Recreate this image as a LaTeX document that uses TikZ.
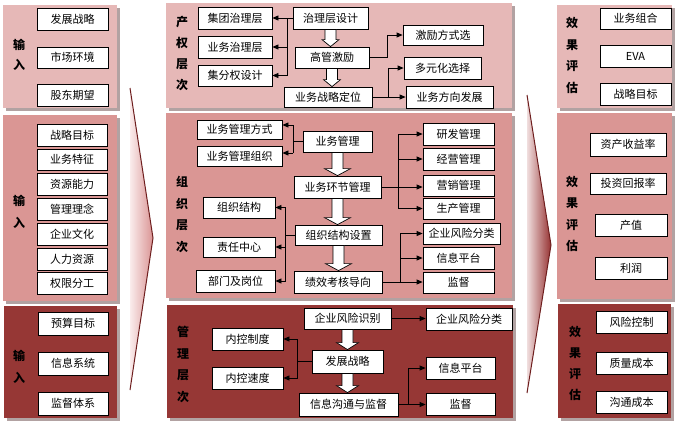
\documentclass[tikz,border=0pt]{standalone}
\usepackage{fontspec}
\setmainfont{Noto Sans CJK SC}
\usetikzlibrary{arrows.meta,calc}
\definecolor{pA}{RGB}{230,184,183}
\definecolor{pB}{RGB}{218,150,148}
\definecolor{pC}{RGB}{150,55,53}
\definecolor{shd}{RGB}{178,162,162}
\definecolor{edgec}{RGB}{110,30,30}
\newcommand\bx[6]{\pgfmathsetmacro\bxw{#4-#2}\pgfmathsetmacro\bxh{#5-#3}%
  \node[box,minimum width=\bxw pt,minimum height=\bxh pt] (#1) at ({(#2+#4)/2},{(#3+#5)/2}) {#6};}
\newcommand\panel[5]{\fill[shd] (#1+3,#2+3) rectangle (#3+3,#4+3); \fill[#5] (#1,#2) rectangle (#3,#4);}
\newcommand\barrow[3]{\draw[barr] let \p1=(#1.south), \p2=(#2.north) in
  (\x1-5.5pt,\y1) -- (\x1+5.5pt,\y1) -- (\x1+5.5pt,\y2+7pt) -- (\x1+#3pt,\y2+7pt) -- (\x1,\y2)
  -- (\x1-#3pt,\y2+7pt) -- (\x1-5.5pt,\y2+7pt) -- cycle;}
\begin{document}
\begin{tikzpicture}[x=1pt,y=-1pt,
  box/.style={draw=black,fill=white,line width=0.8pt,inner sep=0pt,font=\fontsize{11}{12}\selectfont},
  lbl/.style={align=center,inner sep=0pt},
  conn/.style={draw=black,line width=0.8pt,-{Triangle[length=6pt,width=5pt]}},
  ln/.style={draw=black,line width=0.8pt},
  barr/.style={fill=white,draw=black,line width=0.7pt}]
\useasboundingbox (0,0) rectangle (679,429);
\fill[white] (0,0) rectangle (679,429);
% panels
\panel{3}{5}{117}{108}{pA}
\panel{3}{115}{117}{301}{pB}
\panel{4}{306}{117}{418}{pC}
\panel{166}{3}{512}{108}{pA}
\panel{166}{113}{512}{298}{pB}
\panel{167}{305}{513}{418}{pC}
\panel{557}{5}{672}{108}{pA}
\panel{557}{113}{672}{299}{pB}
\panel{558}{304}{671}{418}{pC}
% chevrons
\shade[left color={rgb,255:red,250;green,236;blue,236},right color={rgb,255:red,218;green,148;blue,148}] (130,88) -- (153,238) -- (130,390) -- cycle;
\draw[edgec,line width=1pt] (130,88) -- (153,238) -- (130,390);
\shade[left color={rgb,255:red,240;green,222;blue,222},right color={rgb,255:red,150;green,50;blue,50}] (527,95) -- (551,245) -- (527,393) -- cycle;
\draw[edgec,line width=1pt] (527,95) -- (551,245) -- (527,393);
% labels
\node[lbl,font=\fontsize{12}{20}\selectfont\bfseries] (li1) at (19,55) {输\\入};
\node[lbl,font=\fontsize{12}{22}\selectfont\bfseries] (li2) at (19,212) {输\\入};
\node[lbl,font=\fontsize{12}{22}\selectfont\bfseries] (li3) at (19,367) {输\\入};
\node[lbl,font=\fontsize{12}{21}\selectfont\bfseries] (lm1) at (182,53.5) {产\\权\\层\\次};
\node[lbl,font=\fontsize{12}{21.7}\selectfont\bfseries] (lm2) at (182,214.5) {组\\织\\层\\次};
\node[lbl,font=\fontsize{12}{21.7}\selectfont\bfseries] (lm3) at (183,364.5) {管\\理\\层\\次};
\node[lbl,font=\fontsize{12}{21.7}\selectfont\bfseries] (lr1) at (572,55.5) {效\\果\\评\\估};
\node[lbl,font=\fontsize{12}{21.3}\selectfont\bfseries] (lr2) at (572,214) {效\\果\\评\\估};
\node[lbl,font=\fontsize{12}{21}\selectfont\bfseries] (lr3) at (575,363.5) {效\\果\\评\\估};
% left boxes
\bx{a1}{37}{8}{108}{30}{发展战略}
\bx{a2}{37}{47}{108}{68}{市场环境}
\bx{a3}{37}{84}{108}{106}{股东期望}
\bx{b1}{37}{124}{107}{146}{战略目标}
\bx{b2}{37}{149}{107}{170}{业务特征}
\bx{b3}{37}{173}{107}{195}{资源能力}
\bx{b4}{37}{198}{107}{220}{管理理念}
\bx{b5}{37}{223}{107}{245}{企业文化}
\bx{b6}{37}{248}{107}{270}{人力资源}
\bx{b7}{37}{272}{107}{294}{权限分工}
\bx{c1}{38}{312}{108}{335}{预算目标}
\bx{c2}{38}{352}{108}{375}{信息系统}
\bx{c3}{38}{392}{108}{415}{监督体系}
% right boxes
\bx{r1}{600}{8}{671}{29}{业务组合}
\bx{r2}{600}{45}{671}{67}{EVA}
\bx{r3}{600}{83}{671}{105}{战略目标}
\bx{s1}{590}{133}{666}{156}{资产收益率}
\bx{s2}{590}{173}{666}{194}{投资回报率}
\bx{s3}{595}{214}{667}{236}{产值}
\bx{s4}{595}{257}{667}{279}{利润}
\bx{t1}{596}{311}{667}{333}{风险控制}
\bx{t2}{596}{352}{667}{374}{质量成本}
\bx{t3}{596}{391}{667}{413}{沟通成本}
% middle panel 1
\bx{jt}{198}{7}{272}{29}{集团治理层}
\bx{yw}{198}{36}{272}{58}{业务治理层}
\bx{jf}{198}{65}{272}{86}{集分权设计}
\bx{zl}{293}{7}{368}{29}{治理层设计}
\bx{gg}{295}{47}{369}{68}{高管激励}
\bx{zd}{284}{87}{372}{107}{业务战略定位}
\bx{jl}{403}{25}{483}{45}{激励方式选}
\bx{dy}{404}{57}{481}{79}{多元化选择}
\bx{fx}{406}{86}{493}{108}{业务方向发展}
\draw[conn] (zl.west) -- (zl.west -| jt.east);
\coordinate (k1) at (287,18);
\draw[conn] (k1) |- (yw.east);
\draw[conn] (k1) |- (jf.east);
\coordinate (k2) at (387,57.5);
\draw[ln] (gg.east) -- (k2);
\draw[conn] (k2) |- (jl.west);
\draw[conn] (zd.east) -- (zd.east -| fx.west);
\coordinate (k3) at (388,97);
\draw[conn] (k3) |- (dy.west);
\barrow{zl}{gg}{8.5}
\barrow{gg}{zd}{8.5}
% middle panel 2
\bx{fs}{197}{120}{282}{139}{业务管理方式}
\bx{zz}{197}{146}{282}{166}{业务管理组织}
\bx{ywgl}{303}{131}{372}{152}{业务管理}
\bx{hj}{294}{176}{381}{198}{业务环节管理}
\bx{yf}{423}{123}{494}{145}{研发管理}
\bx{jy}{423}{148}{494}{170}{经营管理}
\bx{yx}{423}{175}{494}{196}{营销管理}
\bx{sc}{423}{198}{494}{219}{生产管理}
\bx{zs}{295}{225}{382}{245}{组织结构设置}
\bx{zj}{203}{197}{275}{218}{组织结构}
\bx{zr}{203}{237}{275}{257}{责任中心}
\bx{bm}{196}{270}{275}{292}{部门及岗位}
\bx{jx}{294}{271}{382}{293}{绩效考核导向}
\bx{fl}{423}{223}{500}{244}{企业风险分类}
\bx{xp}{423}{247}{494}{269}{信息平台}
\bx{jd}{423}{272}{494}{293}{监督}
\coordinate (m1) at (293,125);
\coordinate (m2) at (293,153);
\draw[ln] (ywgl.west) -- (ywgl.west -| m1);
\draw[ln] (m1) -- (m2);
\draw[conn] (m1) -- (m1 -| fs.east);
\draw[conn] (m2) -- (m2 -| zz.east);
\draw[conn] (hj.east) -- (hj.east -| yx.west);
\coordinate (m3) at (398,134);
\draw[ln] (m3) -- (398,208.5);
\draw[conn] (m3) -- (yf.west);
\draw[conn] (m3 |- jy.west) -- (jy.west);
\draw[conn] (m3 |- sc.west) -- (sc.west);
\coordinate (m4) at (285,235);
\draw[ln] (zs.west) -- (m4);
\draw[conn] (m4) |- (zj.east);
\draw[conn] (m4) |- (zr.east);
\draw[conn] (m4) |- (bm.east);
\draw[conn] (jx.east) -- (jx.east -| jd.west);
\coordinate (m5) at (400,282);
\draw[conn] (m5) |- (fl.west);
\draw[conn] (m5) |- (xp.west);
\barrow{ywgl}{hj}{13}
\barrow{hj}{zs}{13}
\barrow{zs}{jx}{13}
% middle panel 3
\bx{sb}{304}{308}{391}{329}{企业风险识别}
\bx{fl2}{426}{308}{512}{330}{企业风险分类}
\bx{nk}{212}{328}{283}{350}{内控制度}
\bx{ns}{212}{367}{283}{389}{内控速度}
\bx{fz}{312}{350}{383}{373}{发展战略}
\bx{xg}{299}{393}{398}{416}{信息沟通与监督}
\bx{xp2}{426}{357}{495}{379}{信息平台}
\bx{jd2}{426}{393}{495}{415}{监督}
\draw[conn] (sb.east) -- (sb.east -| fl2.west);
\coordinate (n1) at (297,361.5);
\draw[ln] (fz.west) -- (n1);
\draw[conn] (n1) |- (nk.east);
\draw[conn] (n1) |- (ns.east);
\draw[conn] (xg.east) -- (xg.east -| jd2.west);
\coordinate (n2) at (408,404.5);
\draw[conn] (n2) |- (xp2.west);
\barrow{sb}{fz}{11}
\barrow{fz}{xg}{11}
\end{tikzpicture}
\end{document}
